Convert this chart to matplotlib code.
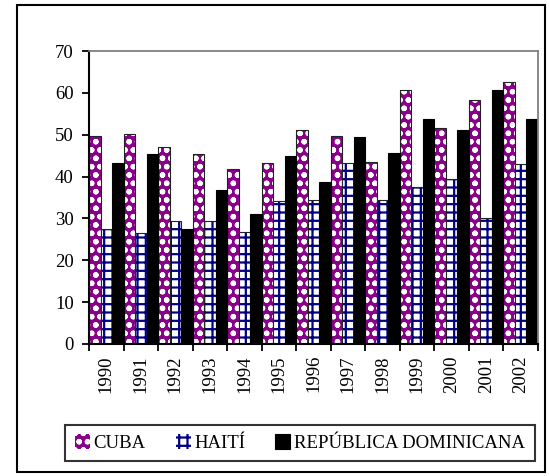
import matplotlib
matplotlib.use("Agg")
import matplotlib.pyplot as plt
import numpy as np
from matplotlib.patches import Rectangle

years = ["1990", "1991", "1992", "1993", "1994", "1995", "1996",
         "1997", "1998", "1999", "2000", "2001", "2002"]
cuba = [49.6, 50.2, 47.0, 45.5, 41.7, 43.2, 51.2, 49.6, 43.5, 60.8, 51.7, 58.2, 62.6]
haiti = [27.4, 26.4, 29.4, 29.4, 26.7, 34.1, 34.4, 43.3, 34.4, 37.5, 39.5, 30.2, 43.0]
rd = [43.3, 45.3, 27.4, 36.9, 31.0, 44.8, 38.8, 49.4, 45.6, 53.8, 51.2, 60.8, 53.8]
labels = ["CUBA", "HAITÍ", "REPÚBLICA DOMINICANA"]

plt.rcParams['font.family'] = ['Liberation Serif', 'DejaVu Serif']
plt.rcParams['hatch.linewidth'] = 1.6

fig = plt.figure(figsize=(5.49, 4.76), dpi=100)
ax = fig.add_axes([89/549, 1-344/476, (538-89)/549, (344-51)/476])

x = np.arange(len(years))
w = 1/3
purple = "#8B008B"
navy = "#000080"

b1 = ax.bar(x - w, cuba, w, color=purple, edgecolor="white", hatch="oo", linewidth=0, label=labels[0])
ax.bar(x - w, cuba, w, fill=False, edgecolor="#222222", linewidth=0.8)
b2 = ax.bar(x, haiti, w, color="white", edgecolor=navy, hatch="++", linewidth=0, label=labels[1])
ax.bar(x, haiti, w, fill=False, edgecolor="#222222", linewidth=0.8)
b3 = ax.bar(x + w, rd, w, color="black", edgecolor="black", linewidth=0.8, label=labels[2])

ax.set_xlim(-0.5, len(years) - 0.5)
ax.set_ylim(0, 70)
ax.set_yticks(range(0, 71, 10))
ax.set_xticks(x)
ax.set_xticklabels(years, rotation=90)
ax.set_xticks(np.arange(-0.5, len(years), 1), minor=True)
ax.tick_params(axis='x', which='major', length=0, pad=8, labelsize=13.5)
ax.tick_params(axis='x', which='minor', length=5, width=1.3, direction='out')
ax.tick_params(axis='y', length=5, width=1.3, direction='out', labelsize=13.5, pad=6)

for s in ['top', 'right']:
    ax.spines[s].set_color("#808080")
    ax.spines[s].set_linewidth(1.3)
for s in ['left', 'bottom']:
    ax.spines[s].set_color("black")
    ax.spines[s].set_linewidth(1.5)

leg = fig.legend(handles=[b1, b2, b3], labels=labels, loc='center',
                 bbox_to_anchor=(300/549, 1-443/476), ncol=3, fancybox=False,
                 frameon=True, fontsize=13.5, handlelength=0.8, handleheight=0.8,
                 handletextpad=0.2, columnspacing=1.6, borderpad=0.5)
leg.get_frame().set_edgecolor("black")
leg.get_frame().set_linewidth(1.5)

fig.patches.append(Rectangle((17/549, 1-472/476), (545-17)/549, (472-5)/476,
                             transform=fig.transFigure, fill=False,
                             edgecolor="black", linewidth=1.5))

fig.savefig("out.png", dpi=100)
